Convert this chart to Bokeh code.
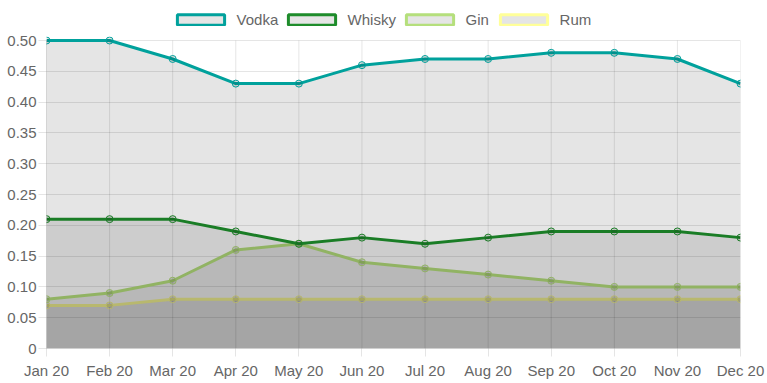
from bokeh.plotting import figure
from bokeh.layouts import column
from bokeh.models import (ColumnDataSource, Legend, LegendItem, FixedTicker,
                          CustomJSTickFormatter)
from bokeh.embed import file_html
from bokeh.resources import INLINE

months = ["Jan 20", "Feb 20", "Mar 20", "Apr 20", "May 20", "Jun 20",
          "Jul 20", "Aug 20", "Sep 20", "Oct 20", "Nov 20", "Dec 20"]
vodka = [0.50, 0.50, 0.47, 0.43, 0.43, 0.46, 0.47, 0.47, 0.48, 0.48, 0.47, 0.43]
whisky = [0.21, 0.21, 0.21, 0.19, 0.17, 0.18, 0.17, 0.18, 0.19, 0.19, 0.19, 0.18]
gin = [0.08, 0.09, 0.11, 0.16, 0.17, 0.14, 0.13, 0.12, 0.11, 0.10, 0.10, 0.10]
rum = [0.07, 0.07, 0.08, 0.08, 0.08, 0.08, 0.08, 0.08, 0.08, 0.08, 0.08, 0.08]
names = ["Vodka", "Whisky", "Gin", "Rum"]
colors = ["#00A19C", "#1E8C2B", "#B5DF7C", "#FFFF99"]
yticks = [0, 0.05, 0.10, 0.15, 0.20, 0.25, 0.30, 0.35, 0.40, 0.45, 0.50]

FONT = "Liberation Sans"
TXT = "#666666"
FS = "15px"
W = 767
LEG_H = 32
NAN = float("nan")
# left pixel edge of each legend entry box in the strip
LEG_X = [176, 287, 405, 499]
LEG_SHIFT = 51.4

x = list(range(len(months)))
data = {"Vodka": vodka, "Whisky": whisky, "Gin": gin, "Rum": rum}

# ---- legend strip ----
lf = figure(width=W, height=LEG_H, x_range=(0, W), y_range=(0, LEG_H),
            output_backend="svg", toolbar_location=None,
            x_axis_location=None, y_axis_location=None, min_border=0)
lf.grid.visible = False
lf.outline_line_color = None
for name, col, lx in zip(names, colors, LEG_X):
    dummy = ColumnDataSource(dict(l=[NAN], r=[NAN], t=[NAN], b=[NAN]))
    r = lf.quad(left="l", right="r", top="t", bottom="b", source=dummy,
                fill_color="black", fill_alpha=0.1, line_color=col, line_width=3)
    leg = Legend(items=[LegendItem(label=name, renderers=[r], index=0)],
                 orientation="horizontal", location=(lx - LEG_SHIFT, 4),
                 glyph_width=59, glyph_height=13, label_height=13,
                 label_standoff=7, spacing=0, padding=0, margin=0,
                 label_text_font=FONT, label_text_font_size=FS,
                 label_text_color=TXT, background_fill_alpha=0,
                 border_line_alpha=0)
    lf.add_layout(leg, "center")

# ---- main chart ----
PLOT_H = 308          # pixel height of 0 .. 0.50
TOP_PAD = 4           # room above 0.50 so the top line is not clipped
y_top = yticks[-1] * (PLOT_H + TOP_PAD) / PLOT_H
p = figure(width=W, height=383 - LEG_H, x_range=(0, len(months) - 1),
           y_range=(0, y_top),
           output_backend="svg", toolbar_location=None,
           min_border_left=46, min_border_right=27, min_border_top=8 - TOP_PAD,
           min_border_bottom=35)
p.outline_line_color = None
p.background_fill_color = "white"

# vertical grid lines, only from 0 to 0.50
p.segment(x0=x, y0=[yticks[0]] * len(x), x1=x, y1=[yticks[-1]] * len(x),
          line_color="black", line_alpha=0.1, line_width=1, level="underlay")

# draw last dataset first (Chart.js order)
for name, col in reversed(list(zip(names, colors))):
    vals = data[name]
    src = ColumnDataSource(dict(x=x, y=vals, base=[0] * len(vals)))
    p.varea(x="x", y1="base", y2="y", source=src, fill_color="black", fill_alpha=0.1)
    p.line(x="x", y="y", source=src, line_color=col, line_width=3)
    p.scatter(x="x", y="y", source=src, size=7, marker="circle", line_color=col,
              line_width=1, fill_color="black", fill_alpha=0.1)

for ax in (p.xaxis[0], p.yaxis[0]):
    ax.axis_line_color = "black"
    ax.axis_line_alpha = 0.1
    ax.major_tick_line_color = "black"
    ax.major_tick_line_alpha = 0.1
    ax.major_tick_in = 0
    ax.major_tick_out = 8
    ax.minor_tick_line_color = None
    ax.major_label_text_font = FONT
    ax.major_label_text_font_size = FS
    ax.major_label_text_color = TXT

p.xaxis.ticker = FixedTicker(ticks=x)
p.xaxis.major_label_overrides = {i: m for i, m in zip(x, months)}
p.xaxis.major_label_standoff = 5
p.yaxis.ticker = FixedTicker(ticks=yticks)
p.yaxis.formatter = CustomJSTickFormatter(code="return tick == 0 ? '0' : tick.toFixed(2);")
p.yaxis.major_label_standoff = 2
p.yaxis.bounds = (yticks[0], yticks[-1])

p.xgrid.visible = False
p.ygrid.ticker = FixedTicker(ticks=yticks)
p.ygrid.grid_line_color = "black"
p.ygrid.grid_line_alpha = 0.1

layout = column(lf, p, spacing=0)
open("out.html", "w").write(file_html(layout, INLINE))
